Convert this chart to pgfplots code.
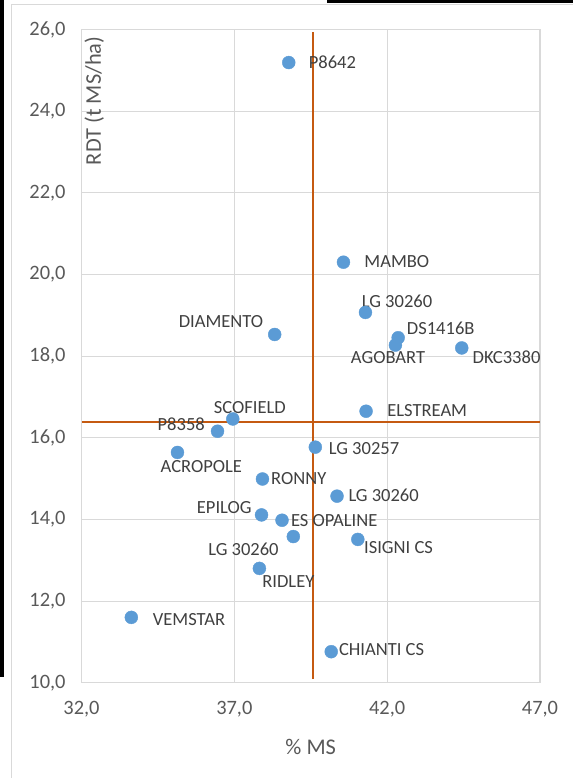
\documentclass[border=0pt]{standalone}
\usepackage{fontspec}
\setmainfont{Carlito}
\usepackage{pgfplots}
\pgfplotsset{compat=1.18}
\definecolor{ptblue}{HTML}{5B9BD5}
\definecolor{refline}{HTML}{C55A11}
\definecolor{gridgray}{HTML}{D9D9D9}
\definecolor{ticktext}{HTML}{595959}
\definecolor{lbltext}{HTML}{404040}
\tikzset{lbl/.style={font=\fontsize{18.6}{22}\selectfont, text=lbltext, inner sep=0pt}}

\begin{document}
\begin{tikzpicture}
\useasboundingbox (0,0) rectangle (573bp,-778bp);
% frame of the original chart area
\fill[black] (0,0) rectangle (4bp,-677bp);
\fill[black] (327bp,0) rectangle (573bp,-3bp);
\draw[gridgray, line width=1bp] (11bp,-778bp) -- (11bp,-4bp) -- (573bp,-4bp);
\begin{axis}[
  at={(81.5bp,-682.7bp)}, anchor=south west,
  scale only axis, width=458.5bp, height=653.2bp,
  xmin=32, xmax=47, ymin=10, ymax=26,
  xtick={32,37,42,47}, ytick={10,12,...,26},
  grid=major, major grid style={gridgray, line width=1bp},
  axis line style={gridgray, line width=1.2bp},
  major tick length=0,
  /pgf/number format/fixed, /pgf/number format/fixed zerofill,
  /pgf/number format/precision=1, /pgf/number format/use comma,
  /pgf/number format/assume math mode=true,
  ticklabel style={font=\fontsize{20.5}{24}\selectfont, text=ticktext},
  xticklabel style={yshift=-15.3bp},
  yticklabel style={xshift=-12.4bp},
  xlabel={\% MS},
  xlabel style={at={(axis description cs:0.5,0)}, anchor=center, yshift=-64bp,
    font=\fontsize{22.5}{26}\selectfont, text=ticktext},
  ylabel={RDT (t MS/ha)},
  ylabel style={at={(axis description cs:0.004,0.991)}, anchor=north east, inner sep=1bp,
    font=\fontsize{22.5}{26}\selectfont, text=ticktext},
  clip=false,
]
% reference lines
\addplot[refline, line width=2bp] coordinates {(39.58,10.09) (39.58,25.94)};
\addplot[refline, line width=2bp] coordinates {(32,16.38) (47,16.38)};
% varieties: % MS, RDT
\addplot[only marks, mark=*, mark size=6.5pt, mark options={draw=ptblue, fill=ptblue}]
  coordinates {
  (38.78,25.19) % P8642
  (40.57,20.30) % MAMBO
  (41.29,19.07) % LG 30260
  (42.36,18.45) % DS1416B
  (42.27,18.27) % AGOBART
  (44.44,18.20) % DKC3380
  (38.32,18.53) % DIAMENTO
  (41.31,16.65) % ELSTREAM
  (36.95,16.46) % SCOFIELD
  (36.45,16.16) % P8358
  (35.14,15.64) % ACROPOLE
  (39.65,15.77) % LG 30257
  (37.92,14.99) % RONNY
  (40.36,14.57) % LG 30260
  (37.89,14.11) % EPILOG
  (38.56,13.98) % ES OPALINE
  (38.93,13.58) % LG 30260
  (41.04,13.51) % ISIGNI CS
  (37.82,12.80) % RIDLEY
  (33.63,11.60) % VEMSTAR
  (40.17,10.76) % CHIANTI CS
  };
% data labels
\node[lbl, anchor=west] at (axis cs:39.43,25.20) {P8642};
\node[lbl, anchor=west] at (axis cs:41.25,20.305) {MAMBO};
\node[lbl, anchor=west] at (axis cs:41.17,19.33) {LG 30260};
\node[lbl, anchor=west] at (axis cs:42.64,18.67) {DS1416B};
\node[lbl, anchor=west] at (axis cs:40.81,17.96) {AGOBART};
\node[lbl, anchor=west] at (axis cs:44.79,17.98) {DKC3380};
\node[lbl, anchor=east] at (axis cs:37.95,18.84) {DIAMENTO};
\node[lbl, anchor=west] at (axis cs:42.00,16.66) {ELSTREAM};
\node[lbl, anchor=center] at (axis cs:37.51,16.75) {SCOFIELD};
\node[lbl, anchor=east] at (axis cs:36.04,16.34) {P8358};
\node[lbl, anchor=center] at (axis cs:35.92,15.29) {ACROPOLE};
\node[lbl, anchor=west] at (axis cs:40.09,15.74) {LG 30257};
\node[lbl, anchor=west] at (axis cs:38.20,15.00) {RONNY};
\node[lbl, anchor=west] at (axis cs:40.73,14.58) {LG 30260};
\node[lbl, anchor=east] at (axis cs:37.57,14.30) {EPILOG};
\node[lbl, anchor=west] at (axis cs:38.85,13.96) {ES OPALINE};
\node[lbl, anchor=center] at (axis cs:37.30,13.27) {LG 30260};
\node[lbl, anchor=west] at (axis cs:41.24,13.32) {ISIGNI CS};
\node[lbl, anchor=west] at (axis cs:37.91,12.47) {RIDLEY};
\node[lbl, anchor=west] at (axis cs:34.33,11.55) {VEMSTAR};
\node[lbl, anchor=west] at (axis cs:40.42,10.80) {CHIANTI CS};
\end{axis}
\end{tikzpicture}
\end{document}
